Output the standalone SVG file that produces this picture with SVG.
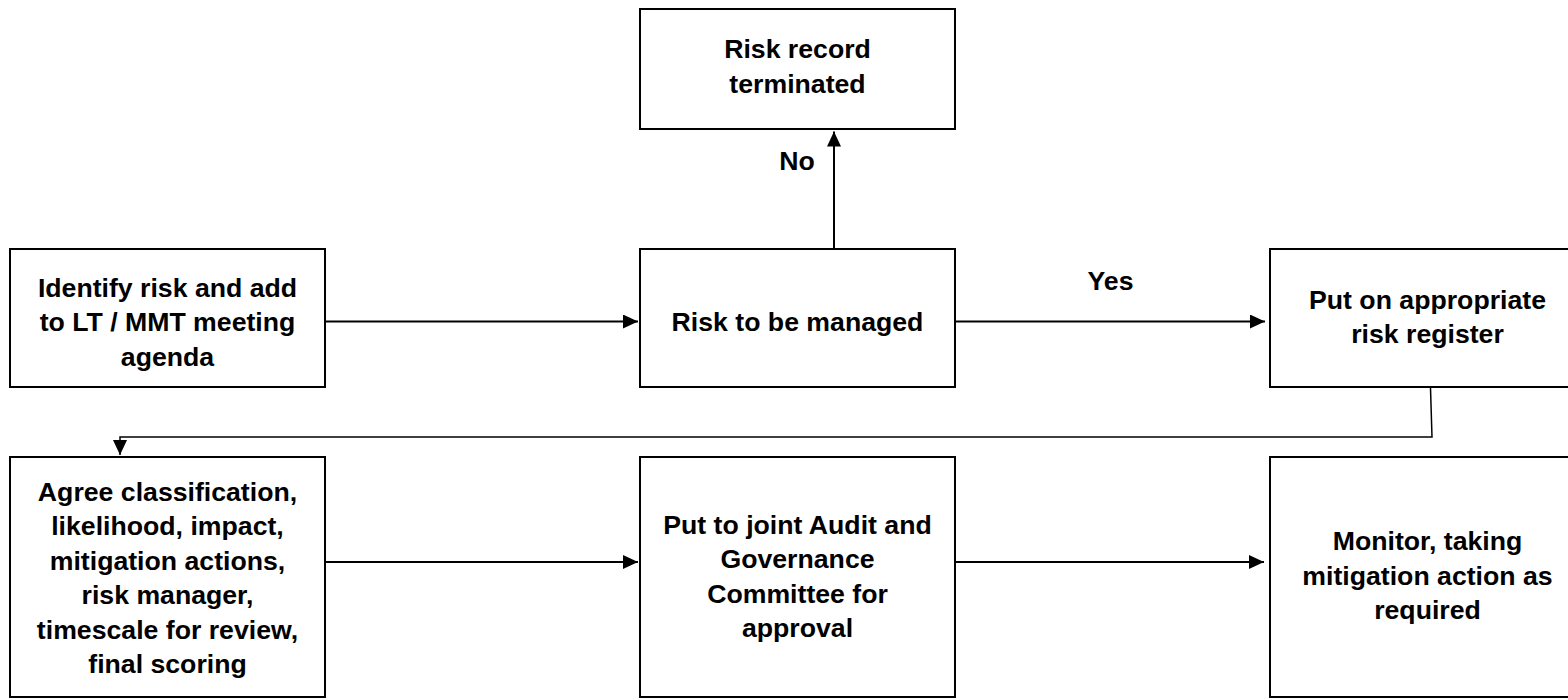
<svg xmlns="http://www.w3.org/2000/svg" width="1568" height="700" viewBox="0 0 1568 700">
  <defs>
    <style>
      .box { fill: #ffffff; stroke: #000000; stroke-width: 2; }
      .lbl { font-family: "Liberation Sans", Arial, sans-serif; font-weight: bold; font-size: 26.67px; fill: #000000; text-anchor: middle; }
      .conn { fill: none; stroke: #000000; stroke-width: 2; }
      .thin { fill: none; stroke: #000000; stroke-width: 1.5; }
    </style>
    <marker id="arrow" markerUnits="userSpaceOnUse" markerWidth="15" markerHeight="14" refX="15" refY="7" orient="auto" viewBox="0 0 15 14">
      <path d="M0,0 L15,7 L0,14 z" fill="#000000"/>
    </marker>
  </defs>
  <rect x="0" y="0" width="1568" height="700" fill="#ffffff"/>

  <g id="connectors">
    <line class="conn" x1="326" y1="321.5" x2="638" y2="321.5" marker-end="url(#arrow)"/>
    <line class="conn" x1="956" y1="321.5" x2="1265" y2="321.5" marker-end="url(#arrow)"/>
    <line class="conn" x1="834" y1="248" x2="834" y2="131.5" marker-end="url(#arrow)"/>
    <polyline class="thin" points="1430.5,388 1432,437 120,437 120,455" marker-end="url(#arrow)"/>
    <line class="conn" x1="326" y1="562" x2="638" y2="562" marker-end="url(#arrow)"/>
    <line class="conn" x1="956" y1="562" x2="1264" y2="562" marker-end="url(#arrow)"/>
    <text class="lbl" x="797" y="170">No</text>
    <text class="lbl" x="1110.5" y="290">Yes</text>
  </g>

  <g id="node-terminated">
    <rect class="box" x="640" y="9" width="315" height="120"/>
    <text class="lbl" x="797.5" y="58">Risk record</text>
    <text class="lbl" x="797.5" y="93">terminated</text>
  </g>

  <g id="node-identify">
    <rect class="box" x="10" y="249" width="315" height="138"/>
    <text class="lbl" x="167.5" y="296.5">Identify risk and add</text>
    <text class="lbl" x="167.5" y="331">to LT / MMT meeting</text>
    <text class="lbl" x="167.5" y="365.5">agenda</text>
  </g>

  <g id="node-managed">
    <rect class="box" x="640" y="249" width="315" height="138"/>
    <text class="lbl" x="797.5" y="330.5">Risk to be managed</text>
  </g>

  <g id="node-register">
    <rect class="box" x="1270" y="249" width="315" height="138"/>
    <text class="lbl" x="1427.5" y="308.5">Put on appropriate</text>
    <text class="lbl" x="1427.5" y="342.5">risk register</text>
  </g>

  <g id="node-agree">
    <rect class="box" x="10" y="457" width="315" height="240"/>
    <text class="lbl" x="167.5" y="500.5">Agree classification,</text>
    <text class="lbl" x="167.5" y="535">likelihood, impact,</text>
    <text class="lbl" x="167.5" y="569.5">mitigation actions,</text>
    <text class="lbl" x="167.5" y="604">risk manager,</text>
    <text class="lbl" x="167.5" y="638.5">timescale for review,</text>
    <text class="lbl" x="167.5" y="673">final scoring</text>
  </g>

  <g id="node-committee">
    <rect class="box" x="640" y="457" width="315" height="240"/>
    <text class="lbl" x="797.5" y="533.5">Put to joint Audit and</text>
    <text class="lbl" x="797.5" y="568">Governance</text>
    <text class="lbl" x="797.5" y="602.5">Committee for</text>
    <text class="lbl" x="797.5" y="637">approval</text>
  </g>

  <g id="node-monitor">
    <rect class="box" x="1270" y="457" width="315" height="240"/>
    <text class="lbl" x="1427.5" y="550">Monitor, taking</text>
    <text class="lbl" x="1427.5" y="584.5">mitigation action as</text>
    <text class="lbl" x="1427.5" y="619">required</text>
  </g>
</svg>
